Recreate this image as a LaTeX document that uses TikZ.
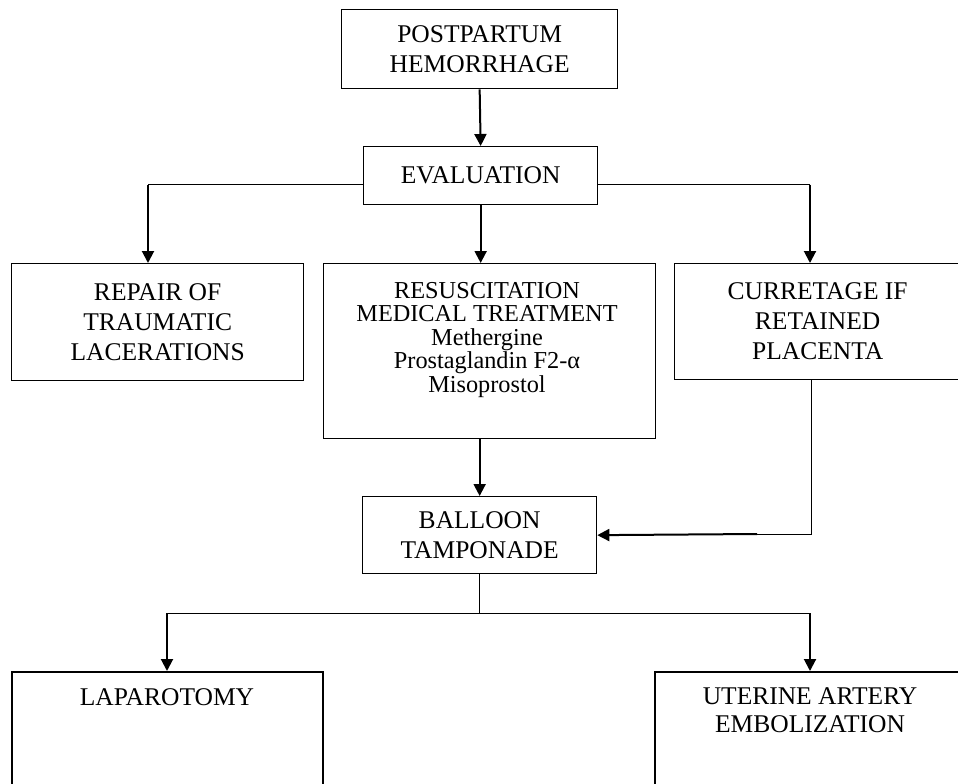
\documentclass[tikz,border=0pt]{standalone}
\usepackage{fontspec}
\setmainfont{Liberation Serif}
\usetikzlibrary{arrows.meta}
\tikzset{
  box/.style={draw, line width=1.3pt, inner sep=0pt, anchor=north west, align=center,
              font=\fontsize{25.5}{30}\selectfont},
  lbl/.style={align=center, inner sep=0pt, anchor=north, font=\fontsize{25.5}{28}\selectfont},
  medlbl/.style={align=center, inner sep=0pt, anchor=north, font=\fontsize{24.3}{23.5}\selectfont},
  thinline/.style={line width=1pt},
  arr/.style={line width=2pt, -{Triangle[width=12pt,length=12pt]}},
}
\begin{document}
\begin{tikzpicture}[x=1pt,y=-1pt]
\useasboundingbox (0,0) rectangle (958,784);
\clip (0,0) rectangle (958,784);
\fill[white] (0,0) rectangle (958,784);

% boxes
\node[box, minimum width=276pt, minimum height=79pt] (pph) at (341,9) {POSTPARTUM\\HEMORRHAGE};
\node[box, minimum width=234pt, minimum height=58pt] (eval) at (363,146) {EVALUATION};
\node[box, minimum width=292pt, minimum height=117pt] (repair) at (11,263) {REPAIR OF\\TRAUMATIC\\LACERATIONS};
\node[box, minimum width=332pt, minimum height=175pt] (med) at (323,263) {};
\node[medlbl] (medtxt) at (487,282) {RESUSCITATION\\MEDICAL TREATMENT\\Methergine\\Prostaglandin F2-α\\Misoprostol};
\node[box, minimum width=286pt, minimum height=116pt] (cur) at (674,263) {CURRETAGE IF\\RETAINED\\PLACENTA};
\node[box, minimum width=234pt, minimum height=77pt] (balloon) at (362,496) {BALLOON\\TAMPONADE};
\node[box, line width=1.6pt, minimum width=311pt, minimum height=140pt] (lap) at (11,671) {};
\node[lbl] (laptxt) at (167,688) {LAPAROTOMY};
\node[box, line width=1.6pt, minimum width=312pt, minimum height=140pt] (uae) at (654,671) {};
\node[lbl] (uaetxt) at (810,687) {UTERINE ARTERY\\EMBOLIZATION};

% junction points
\coordinate (jl) at (148,184.5);
\coordinate (jr) at (810,184.5);
\coordinate (cb) at (811,534);
\coordinate (ck) at (757,534);
\coordinate (bl) at (167,613);
\coordinate (br) at (810,613);

% connectors
\draw[arr] (pph.south) -- (eval.north);
\draw[thinline] (eval.west |- jl) -- (jl);
\draw[arr] (jl) -- (jl |- repair.north);
\draw[thinline] (eval.east |- jr) -- (jr);
\draw[arr] (jr) -- (jr |- cur.north);
\draw[arr] (eval.south) -- (eval.south |- med.north);
\draw[arr] (balloon.north |- med.south) -- (balloon.north);
\draw[thinline] (cb |- cur.south) -- (cb) -- (ck);
\draw[arr] (ck) -- (balloon.east);
\draw[thinline] (balloon.south) -- (balloon.south |- bl);
\draw[thinline] (bl) -- (br);
\draw[arr] (bl) -- (bl |- lap.north);
\draw[arr] (br) -- (br |- uae.north);
\end{tikzpicture}
\end{document}
